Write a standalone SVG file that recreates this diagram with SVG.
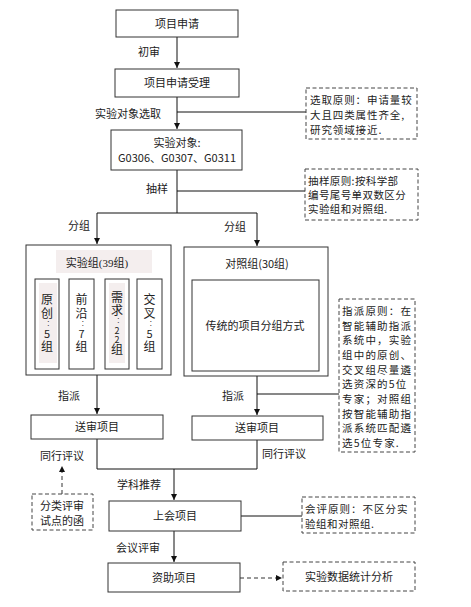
<svg xmlns="http://www.w3.org/2000/svg" width="471" height="607" viewBox="0 0 471 607">
<style>
text{font-family:"Noto Sans CJK SC","Liberation Sans",sans-serif;font-size:11px;fill:#222}
.c{text-anchor:middle}
.box{fill:#fff;stroke:#333;stroke-width:1}
.note{fill:#fff;stroke:#444;stroke-width:1;stroke-dasharray:4,2.5}
.ln{fill:none;stroke:#111;stroke-width:1}
.dl{fill:none;stroke:#333;stroke-width:1;stroke-dasharray:4,3}
.sub{fill:#fff;stroke:#333;stroke-width:1}
.serif{font-family:"Liberation Serif","Noto Sans CJK SC",serif}
.vt{font-size:12px;writing-mode:vertical-rl;text-orientation:upright;text-anchor:middle;letter-spacing:1.5px}
.cl{font-size:6px}
.dg{font-size:11px}
.dg2{font-size:9px;letter-spacing:0}
.nt{font-size:10.5px}
</style>
<defs>
<marker id="ah" markerWidth="8" markerHeight="8" refX="6" refY="3" orient="auto" markerUnits="userSpaceOnUse">
<path d="M0,0 L6,3 L0,6 z" fill="#111"/>
</marker>
</defs>
<rect width="471" height="607" fill="#fff"/>

<g id="connectors">
<line class="ln" x1="177" y1="37" x2="177" y2="68" marker-end="url(#ah)"/>
<line class="ln" x1="177" y1="97" x2="177" y2="129" marker-end="url(#ah)"/>
<line class="ln" x1="177" y1="112" x2="306" y2="112"/>
<line class="ln" x1="177" y1="170" x2="177" y2="213"/>
<line class="ln" x1="177" y1="191" x2="305" y2="191"/>
<line class="ln" x1="97" y1="213" x2="257" y2="213"/>
<line class="ln" x1="97" y1="213" x2="97" y2="244" marker-end="url(#ah)"/>
<line class="ln" x1="257" y1="213" x2="257" y2="246" marker-end="url(#ah)"/>
<line class="ln" x1="97" y1="375" x2="97" y2="414" marker-end="url(#ah)"/>
<line class="ln" x1="257" y1="376" x2="257" y2="415" marker-end="url(#ah)"/>
<line class="ln" x1="257" y1="394" x2="339" y2="394"/>
<polyline class="ln" points="97,439 97,469 257,469 257,440"/>
<line class="ln" x1="174" y1="469" x2="174" y2="500" marker-end="url(#ah)"/>
<line class="dl" x1="62" y1="494" x2="62" y2="466" marker-end="url(#ah)"/>
<line class="ln" x1="241" y1="516" x2="302" y2="516"/>
<line class="ln" x1="174" y1="531" x2="174" y2="562" marker-end="url(#ah)"/>
<line class="dl" x1="240" y1="578" x2="282" y2="578" marker-end="url(#ah)"/>
</g>

<g id="labels">
<text x="138" y="56">初审</text>
<text x="95" y="118">实验对象选取</text>
<text x="146" y="193">抽样</text>
<text x="68" y="230">分组</text>
<text x="224" y="231">分组</text>
<text x="58" y="400">指派</text>
<text x="222" y="400">指派</text>
<text x="40" y="460">同行评议</text>
<text x="262" y="458">同行评议</text>
<text x="117" y="489">学科推荐</text>
<text x="116" y="552">会议评审</text>
</g>

<g id="n1"><rect class="box" x="116" y="10" width="122" height="27"/><text class="c" x="177" y="27.5">项目申请</text></g>
<g id="n2"><rect class="box" x="115" y="69" width="124" height="28"/><text class="c" x="177" y="87">项目申请受理</text></g>
<g id="n3"><rect class="box" x="111" y="130" width="131" height="40"/><text class="c" x="177" y="147">实验对象:</text><text class="c" x="177" y="162">G0306、G0307、G0311</text></g>

<g id="note1"><rect class="note" x="306" y="88" width="111" height="51"/>
<text class="nt" x="310" y="104" letter-spacing="0.9">选取原则：申请量较</text>
<text class="nt" x="310" y="119" letter-spacing="0.9">大且四类属性齐全,</text>
<text class="nt" x="310" y="134" letter-spacing="0.9">研究领域接近.</text></g>

<g id="note2"><rect class="note" x="305" y="169" width="113" height="51"/>
<text class="nt" x="308" y="185" letter-spacing="0.4">抽样原则:按科学部</text>
<text class="nt" x="308" y="199" letter-spacing="0.4">编号尾号单双数区分</text>
<text class="nt" x="308" y="213" letter-spacing="0.4">实验组和对照组.</text></g>

<g id="exp"><rect class="box" x="26" y="245" width="145" height="130"/>
<rect x="56" y="250" width="96" height="23" fill="#f4eeee"/>
<text class="c serif" x="97" y="267" font-size="13">实验组(39组)</text>
<g id="s1"><rect class="sub" x="35" y="279" width="24" height="90"/><rect x="39" y="283" width="18" height="80" fill="#f4eeee"/>
<text class="vt" x="47" y="324">原创<tspan class="cl">：</tspan><tspan class="dg">5</tspan>组</text></g>
<g id="s2"><rect class="sub" x="69" y="279" width="25" height="90"/>
<text class="vt" x="81.5" y="324">前沿<tspan class="cl">：</tspan><tspan class="dg">7</tspan>组</text></g>
<g id="s3"><rect class="sub" x="105" y="279" width="24" height="90"/><rect x="109" y="283" width="16" height="80" fill="#f4eeee"/>
<text class="vt" x="117" y="324">需求<tspan class="cl">：</tspan><tspan class="dg2">22</tspan>组</text></g>
<g id="s4"><rect class="sub" x="137" y="279" width="25" height="90"/>
<text class="vt" x="149.5" y="324">交叉<tspan class="cl">：</tspan><tspan class="dg">5</tspan>组</text></g>
</g>

<g id="ctrl"><rect class="box" x="184" y="247" width="144" height="129"/>
<text class="c" x="257" y="268">对照组(30组)</text>
<rect class="box" x="192" y="280" width="127" height="91"/>
<text class="c" x="255" y="330">传统的项目分组方式</text></g>

<g id="note3"><rect class="note" x="339" y="299" width="76" height="153"/>
<text class="nt" x="342" y="315" letter-spacing="1.2">指派原则：在</text>
<text class="nt" x="342" y="330" letter-spacing="1.2">智能辅助指派</text>
<text class="nt" x="342" y="344" letter-spacing="1.2">系统中，实验</text>
<text class="nt" x="342" y="359" letter-spacing="1.2">组中的原创、</text>
<text class="nt" x="342" y="374" letter-spacing="1.2">交叉组尽量遴</text>
<text class="nt" x="342" y="388" letter-spacing="1.2">选资深的5位</text>
<text class="nt" x="342" y="403" letter-spacing="1.2">专家；对照组</text>
<text class="nt" x="342" y="418" letter-spacing="1.2">按智能辅助指</text>
<text class="nt" x="342" y="432" letter-spacing="1.2">派系统匹配遴</text>
<text class="nt" x="342" y="447" letter-spacing="1.2">选5位专家.</text></g>

<g id="n4"><rect class="box" x="31" y="415" width="132" height="24"/><text class="c" x="97" y="431">送审项目</text></g>
<g id="n5"><rect class="box" x="192" y="416" width="131" height="24"/><text class="c" x="257" y="432">送审项目</text></g>

<g id="note5"><rect class="note" x="32" y="494" width="61" height="36"/>
<text x="40" y="510">分类评审</text><text x="40" y="525">试点的函</text></g>

<g id="n6"><rect class="box" x="109" y="501" width="132" height="30"/><text class="c" x="175" y="520">上会项目</text></g>
<g id="note4"><rect class="note" x="302" y="497" width="113" height="36"/>
<text class="nt" x="305" y="513" letter-spacing="1">会评原则：不区分实</text>
<text class="nt" x="305" y="528" letter-spacing="0.5">验组和对照组.</text></g>

<g id="n7"><rect class="box" x="108" y="563" width="132" height="29"/><text class="c" x="174" y="582">资助项目</text></g>
<g id="n8"><rect class="note" x="283" y="562" width="132" height="29"/><text class="c" x="349" y="581">实验数据统计分析</text></g>
</svg>
